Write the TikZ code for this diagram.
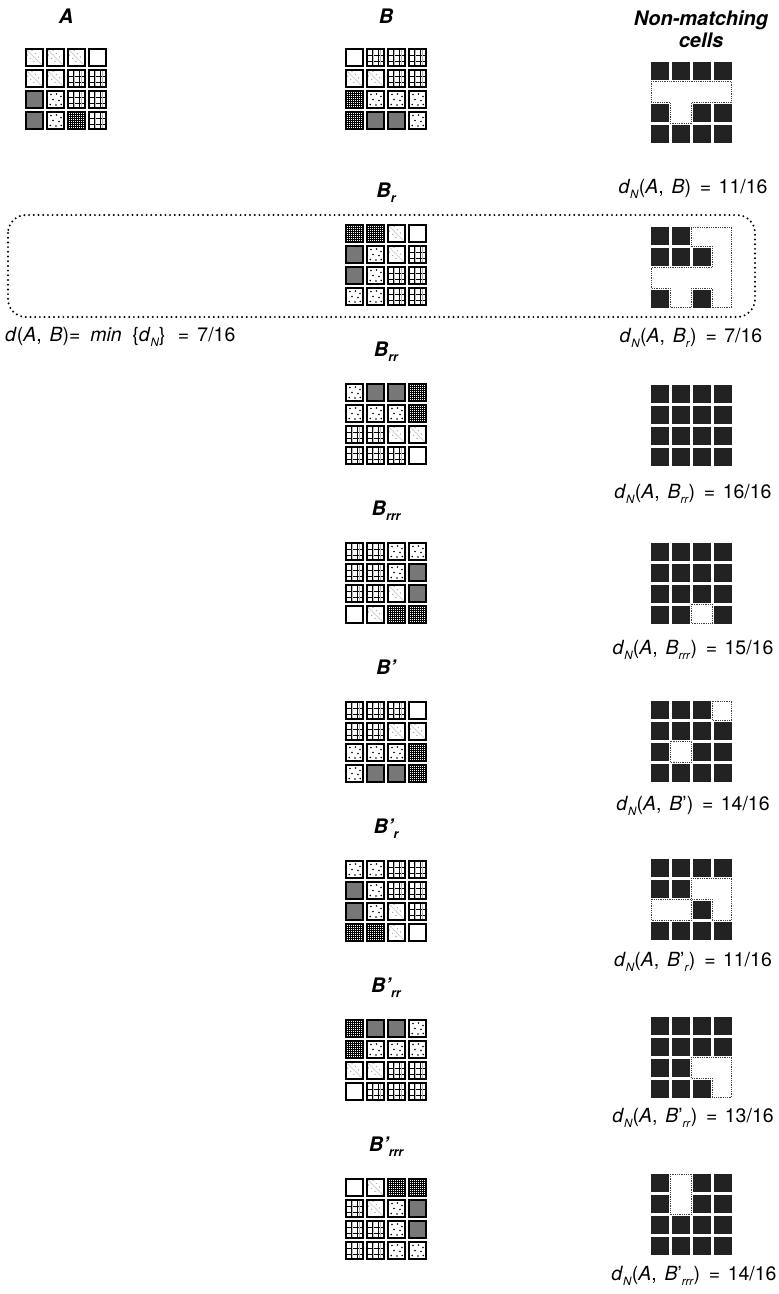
\documentclass[tikz,border=0pt]{standalone}
\usepackage{fontspec}
\setmainfont{TeX Gyre Heros}
\definecolor{cellgray}{RGB}{119,119,119}
\definecolor{nmblack}{RGB}{34,34,34}
\newcommand\cpW{\draw[cellborder,fill=white] (0,0) rectangle (17,17);}
\newcommand\cpG{\draw[cellborder,fill=cellgray] (0,0) rectangle (17,17);}
\newcommand\cpD{\fill[white] (0,0) rectangle (17,17);
  \draw[gray!35,line width=0.8pt] (1,1)--(16,16);
  \draw[black,line width=0.9pt,line cap=round,dash pattern=on 0pt off 4.6pt] (1.5,6)--(11,15.5) (6,1.5)--(15.5,11);
  \draw[cellborder] (0,0) rectangle (17,17);}
\newcommand\cpP{\fill[white] (0,0) rectangle (17,17);
  \draw[black,line width=1pt] (5,0)--(5,17) (11.5,0)--(11.5,17) (0,6)--(17,6) (0,12)--(17,12);
  \draw[gray!55,line width=0.6pt] (6.3,0)--(6.3,17) (12.8,0)--(12.8,17);
  \draw[cellborder] (0,0) rectangle (17,17);}
\newcommand\cpS{\fill[white] (0,0) rectangle (17,17);
  \foreach \p in {(4,3.5),(9.5,3),(14,5.5),(6,8.5),(12,9.5),(3.2,13.5),(9,14),(14.2,13.5)} \fill[black] \p circle (0.9);
  \draw[cellborder] (0,0) rectangle (17,17);}
\newcommand\cpX{\fill[white] (0,0) rectangle (17,17);
  \foreach \k in {2.2,4.3,6.4,8.5,10.6,12.7,14.8} \draw[black,line width=0.75pt] (\k,0)--(\k,17) (0,\k)--(17,\k);
  \draw[cellborder] (0,0) rectangle (17,17);}
\newcommand\patgrid[3]{%
  \foreach \t [count=\n from 0] in {#3} {%
    \pgfmathtruncatemacro\rr{int(\n/4)}%
    \pgfmathtruncatemacro\cc{mod(\n,4)}%
    \begin{scope}[shift={({#1+21*\cc},{#2+21*\rr})}]\csname cp\t\endcsname\end{scope}%
  }}
\newcommand\nmcells[1]{%
  \foreach \b [count=\n from 0] in {#1} {%
    \pgfmathtruncatemacro\rr{int(\n/4)}%
    \pgfmathtruncatemacro\cc{mod(\n,4)}%
    \ifnum\b=1 \fill[nmblack] ({21*\cc},{21*\rr}) rectangle +(17.5,17.5);\fi
  }}
\def\qa{0}\def\qb{19.25}\def\qc{40.25}\def\qd{61.25}\def\qe{80.5}
\newcommand\sub[1]{\raisebox{-0.55ex}{\fontsize{11.5}{11.5}\selectfont\textit{#1}}}
\newcommand\bsub[1]{\raisebox{-0.5ex}{\fontsize{12.5}{12.5}\selectfont\bfseries\itshape #1}}
\newcommand\dN{\textit{d}\sub{N}}
\newcommand\cm{,\hspace{0.4em}}
\newcommand\eqs{\hspace{0.45em}=\hspace{0.38em}}
\begin{document}
\begin{tikzpicture}[x=1pt,y=-1pt,
  cellborder/.style={draw=black,line width=1.2pt},
  nmdot/.style={draw=black!75,line width=0.6pt,dash pattern=on 0.6pt off 1.2pt},
  ttl/.style={font=\fontsize{20}{24}\selectfont\bfseries\itshape,anchor=base,inner sep=0pt},
  lbl/.style={font=\fontsize{19.5}{23}\selectfont,anchor=base,inner sep=0pt},
  bigbox/.style={draw=black,line width=2.2pt,line cap=round,dash pattern=on 0pt off 4.7pt,rounded corners=18pt}]
\useasboundingbox (0,0) rectangle (779,1294);
% titles
\node[ttl] (tA) at (66,23) {A};
\node[ttl] (tB) at (386,23) {B};
\node[ttl] (tN1) at (701,25) {Non-matching};
\node[ttl] (tN2) at (701,47) {cells};
\node[ttl] (tBr) at (386,197) {B\bsub{r}};
\node[ttl] (tBrr) at (386,356) {B\bsub{rr}};
\node[ttl] (tBrrr) at (386,515) {B\bsub{rrr}};
\node[ttl] (tBp) at (386,674) {B’};
\node[ttl] (tBpr) at (386,833) {B’\bsub{r}};
\node[ttl] (tBprr) at (386,992) {B’\bsub{rr}};
\node[ttl] (tBprrr) at (386,1151) {B’\bsub{rrr}};
% pattern grids
\patgrid{26}{49}{D,D,D,W,D,D,P,P,G,S,P,P,G,S,X,P}
\patgrid{346}{49}{W,P,P,P,D,D,P,P,X,S,S,S,X,G,G,S}
\patgrid{346}{225}{X,X,D,W,G,S,D,P,G,S,P,P,S,S,P,P}
\patgrid{346}{384}{S,G,G,X,S,S,S,X,P,P,D,D,P,P,P,W}
\patgrid{346}{543}{P,P,S,S,P,P,S,G,P,P,D,G,W,D,X,X}
\patgrid{346}{702}{P,P,P,W,P,P,D,D,S,S,S,X,S,G,G,X}
\patgrid{346}{861}{S,S,P,P,G,S,P,P,G,S,D,P,X,X,D,W}
\patgrid{346}{1020}{X,G,G,S,X,S,S,S,D,D,P,P,W,P,P,P}
\patgrid{346}{1179}{W,D,X,X,P,D,S,G,P,P,S,G,P,P,S,S}
% non-matching grids
\begin{scope}[shift={(651,62)}]
  \draw[nmdot] (\qa,\qb)--(\qe,\qb)--(\qe,\qc)--(\qc,\qc)--(\qc,\qd)--(\qb,\qd)--(\qb,\qc)--(\qa,\qc)--cycle;
  \nmcells{1,1,1,1,0,0,0,0,1,0,1,1,1,1,1,1}
\end{scope}
\begin{scope}[shift={(651,227)}]
  \draw[nmdot] (\qc,\qa)--(\qe,\qa)--(\qe,\qe)--(\qd,\qe)--(\qd,\qd)--(\qc,\qd)--(\qc,\qe)--(\qb,\qe)--(\qb,\qd)--(\qa,\qd)--(\qa,\qc)--(\qd,\qc)--(\qd,\qb)--(\qc,\qb)--cycle;
  \nmcells{1,1,0,0,1,1,1,0,0,0,0,0,1,0,1,0}
\end{scope}
\begin{scope}[shift={(651,385)}]
  \nmcells{1,1,1,1,1,1,1,1,1,1,1,1,1,1,1,1}
\end{scope}
\begin{scope}[shift={(651,543)}]
  \draw[nmdot] (\qc,\qd) rectangle (\qd,\qe);
  \nmcells{1,1,1,1,1,1,1,1,1,1,1,1,1,1,0,1}
\end{scope}
\begin{scope}[shift={(651,701)}]
  \draw[nmdot] (\qd,\qa) rectangle (\qe,\qb) (\qb,\qc) rectangle (\qc,\qd);
  \nmcells{1,1,1,0,1,1,1,1,1,0,1,1,1,1,1,1}
\end{scope}
\begin{scope}[shift={(651,859)}]
  \draw[nmdot] (\qc,\qb)--(\qe,\qb)--(\qe,\qd)--(\qd,\qd)--(\qd,\qc)--(\qc,\qc)--cycle (\qa,\qc) rectangle (\qc,\qd);
  \nmcells{1,1,1,1,1,1,0,0,0,0,1,0,1,1,1,1}
\end{scope}
\begin{scope}[shift={(651,1017)}]
  \draw[nmdot] (\qc,\qc)--(\qe,\qc)--(\qe,\qe)--(\qd,\qe)--(\qd,\qd)--(\qc,\qd)--cycle;
  \nmcells{1,1,1,1,1,1,1,1,1,1,0,0,1,1,1,0}
\end{scope}
\begin{scope}[shift={(651,1174)}]
  \draw[nmdot] (\qb,\qa) rectangle (\qc,\qc);
  \nmcells{1,0,1,1,1,0,1,1,1,1,1,1,1,1,1,1}
\end{scope}
% dotted rounded box
\draw[bigbox] (8,215) rectangle (755,317);
% labels
\node[lbl] (l0) at (693,193) {\dN(\textit{A}\cm\textit{B})\eqs 11/16};
\node[lbl] (l1) at (691,342) {\dN(\textit{A}\cm\textit{B}\sub{r})\eqs 7/16};
\node[lbl,anchor=base west] (lmin) at (5,341) {\textit{d}(\textit{A}\cm\textit{B})=\hspace{0.5em}\textit{min}\hspace{0.55em}\{\dN\}\hspace{0.62em}=\hspace{0.42em}7/16};
\node[lbl] (l2) at (693,498) {\dN(\textit{A}\cm\textit{B}\sub{rr})\eqs 16/16};
\node[lbl] (l3) at (693,654) {\dN(\textit{A}\cm\textit{B}\sub{rrr})\eqs 15/16};
\node[lbl] (l4) at (693,810) {\dN(\textit{A}\cm\textit{B}’)\eqs 14/16};
\node[lbl] (l5) at (693,966) {\dN(\textit{A}\cm\textit{B}’\sub{r})\eqs 11/16};
\node[lbl] (l6) at (693,1122) {\dN(\textit{A}\cm\textit{B}’\sub{rr})\eqs 13/16};
\node[lbl] (l7) at (694,1280) {\dN(\textit{A}\cm\textit{B}’\sub{rrr})\eqs 14/16};
\end{tikzpicture}
\end{document}
